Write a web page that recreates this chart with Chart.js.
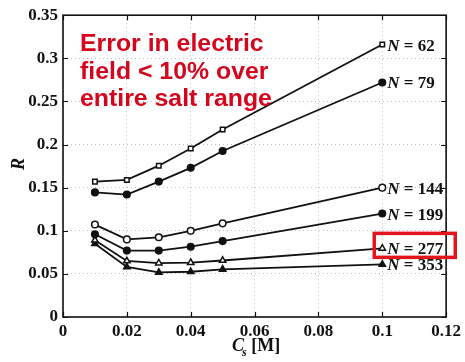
<!DOCTYPE html>
<html><head><meta charset="utf-8">
<script src="https://cdn.jsdelivr.net/npm/chart.js@4/dist/chart.umd.min.js"></script>
<style>html,body{margin:0;padding:0;background:#fff}#wrap{width:465px;height:362px}</style>
</head><body><div id="wrap"><canvas id="c" width="465" height="362"></canvas></div>
<script>
// ---- data ----
const concentrations = [0.01, 0.02, 0.03, 0.04, 0.05, 0.1];
const seriesNames = ['62', '79', '144', '199', '277', '353'];
const r62  = [0.157, 0.159, 0.1755, 0.1955, 0.2175, 0.316];
const r79  = [0.1445, 0.142, 0.157, 0.173, 0.1925, 0.272];
const r144 = [0.1072, 0.090, 0.0924, 0.100, 0.1086, 0.150];
const r199 = [0.096, 0.077, 0.077, 0.0815, 0.088, 0.120];
const r277 = [0.089, 0.065, 0.0625, 0.063, 0.0655, 0.0796];
const r353 = [0.085, 0.058, 0.0518, 0.0525, 0.0553, 0.061];
const xTicks = [0, 0.02, 0.04, 0.06, 0.08, 0.1, 0.12];
const yTicks = [0, 0.05, 0.1, 0.15, 0.2, 0.25, 0.3, 0.35];
const annotationLines = ['Error in electric', 'field < 10% over', 'entire salt range'];
const highlightedSeries = '277';
const xTitle = ['C', 's', ' [M]'];
const yTitle = 'R';

// ---- styles ----
const seriesValues = [r62, r79, r144, r199, r277, r353];
const markerStyles = ['rect', 'circle', 'circle', 'circle', 'triangle', 'triangle'];
const markerFilled = [false, true, false, true, false, true];
const markerRadius = [3.2, 3.3, 3.3, 3.3, 3.7, 3.7];

const datasets = seriesNames.map((n, i) => ({
  label: 'N = ' + n,
  data: concentrations.map((c, j) => ({x: c, y: seriesValues[i][j]})),
  borderColor: '#111',
  borderWidth: 1.8,
  pointStyle: markerStyles[i],
  pointRadius: markerRadius[i],
  pointBorderWidth: 1.5,
  pointBorderColor: '#111',
  pointBackgroundColor: markerFilled[i] ? '#111' : '#fff',
  fill: false,
  tension: 0
}));

const SERIF = '"Liberation Serif", "DejaVu Serif", serif';
const fmt = v => String(+(+v).toFixed(2));

const decor = {
  id: 'decor',
  afterDraw(chart) {
    const ctx = chart.ctx;
    const ca = chart.chartArea;
    const xs = chart.scales.x, ys = chart.scales.y;
    ctx.save();
    // frame
    ctx.setLineDash([]);
    ctx.strokeStyle = '#111';
    ctx.lineWidth = 1.6;
    ctx.strokeRect(ca.left, ca.top, ca.right - ca.left, ca.bottom - ca.top);
    // inner ticks
    ctx.lineWidth = 1.2;
    ctx.beginPath();
    xTicks.forEach(v => {
      const px = Math.round(xs.getPixelForValue(v)) + 0.5;
      ctx.moveTo(px, ca.bottom); ctx.lineTo(px, ca.bottom - 5);
      ctx.moveTo(px, ca.top); ctx.lineTo(px, ca.top + 5);
    });
    yTicks.forEach(v => {
      const py = Math.round(ys.getPixelForValue(v)) + 0.5;
      ctx.moveTo(ca.left, py); ctx.lineTo(ca.left + 5, py);
      ctx.moveTo(ca.right, py); ctx.lineTo(ca.right - 5, py);
    });
    ctx.stroke();

    // axis titles
    ctx.fillStyle = '#111';
    ctx.textBaseline = 'alphabetic';
    ctx.textAlign = 'left';
    let x0 = 232, yb = 351;
    ctx.font = 'italic bold 18px ' + SERIF;
    ctx.fillText(xTitle[0], x0, yb);
    let w = ctx.measureText(xTitle[0]).width;
    ctx.font = 'italic bold 12px ' + SERIF;
    ctx.fillText(xTitle[1], x0 + w - 2, yb + 5);
    w += ctx.measureText(xTitle[1]).width - 2;
    ctx.font = 'bold 18px ' + SERIF;
    ctx.fillText(xTitle[2], x0 + w, yb);

    ctx.save();
    ctx.translate(24, 164);
    ctx.rotate(-Math.PI / 2);
    ctx.textAlign = 'center';
    ctx.font = 'italic bold 18px ' + SERIF;
    ctx.fillText(yTitle, 0, 0);
    ctx.restore();

    // series labels
    chart.data.datasets.forEach((ds, i) => {
      const meta = chart.getDatasetMeta(i);
      const pt = meta.data[meta.data.length - 1];
      const lx = pt.x + 5, ly = pt.y + 6;
      ctx.font = 'italic bold 17px ' + SERIF;
      ctx.fillStyle = '#111';
      ctx.textAlign = 'left';
      ctx.fillText('N', lx, ly);
      const nw = ctx.measureText('N').width;
      ctx.font = 'bold 17px ' + SERIF;
      ctx.fillText(' = ' + seriesNames[i], lx + nw, ly);
      if (seriesNames[i] === highlightedSeries) {
        ctx.strokeStyle = '#e3141c';
        ctx.lineWidth = 3.5;
        ctx.strokeRect(pt.x - 8, pt.y - 15, 81, 24);
      }
    });

    // annotation
    ctx.fillStyle = '#d4061e';
    ctx.font = 'bold 23px "Liberation Sans", Arial, sans-serif';
    ctx.textAlign = 'left';
    annotationLines.forEach((t, i) => {
      ctx.save();
      ctx.translate(80, 51 + i * 27.5);
      ctx.scale(1.08, 1);
      ctx.fillText(t, 0, 0);
      ctx.restore();
    });
    ctx.restore();
  }
};

const gridOpts = { color: '#bdbdbd', lineWidth: 1, drawTicks: false, tickLength: 0 };

new Chart(document.getElementById('c'), {
  type: 'line',
  data: { datasets },
  plugins: [decor],
  options: {
    responsive: false,
    animation: false,
    devicePixelRatio: 1,
    layout: { padding: { top: 15, right: 18, left: 0, bottom: 0 } },
    plugins: { legend: { display: false }, tooltip: { enabled: false }, title: { display: false } },
    scales: {
      x: {
        type: 'linear', min: 0, max: 0.12,
        afterBuildTicks: s => { s.ticks = xTicks.map(v => ({ value: v })); },
        afterFit: s => { s.height = 45; },
        ticks: { callback: v => fmt(v), color: '#111', padding: 4, maxRotation: 0,
                 font: { family: SERIF, size: 17, weight: 'bold' } },
        grid: gridOpts,
        border: { display: false, dash: [1, 3] }
      },
      y: {
        type: 'linear', min: 0, max: 0.35,
        afterBuildTicks: s => { s.ticks = yTicks.map(v => ({ value: v })); },
        afterFit: s => { s.width = 63; },
        ticks: { callback: v => fmt(v), color: '#111', padding: 5,
                 font: { family: SERIF, size: 17, weight: 'bold' } },
        grid: gridOpts,
        border: { display: false, dash: [1, 3] }
      }
    }
  }
});
</script>
</body></html>
